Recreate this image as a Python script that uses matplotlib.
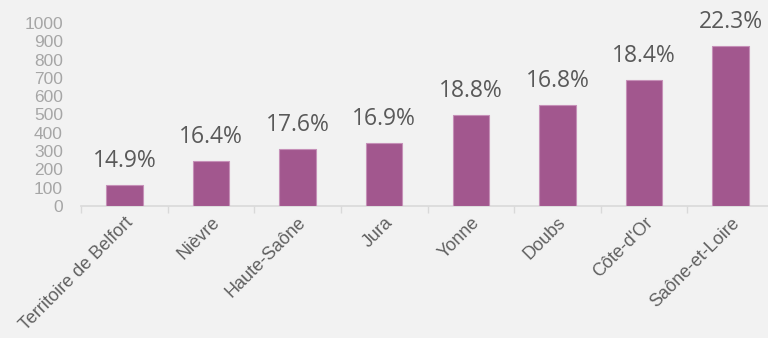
import matplotlib.pyplot as plt
import numpy as np

# Départements de Bourgogne-Franche-Comté
departements = ['Territoire de Belfort', 'Nièvre', 'Haute-Saône', 'Jura',
                'Yonne', 'Doubs', "Côte-d'Or", 'Saône-et-Loire']
valeurs = [115, 245, 310, 345, 495, 550, 690, 875]
taux = ['14.9%', '16.4%', '17.6%', '16.9%', '18.8%', '16.8%', '18.4%', '22.3%']
yticks = list(range(0, 1001, 100))

fond = '#f2f2f2'
couleur_barre = '#a2578e'

fig = plt.figure(figsize=(7.68, 3.38), dpi=100, facecolor=fond)
ax = fig.add_axes([81 / 768, (338 - 206) / 338, 693 / 768, 183 / 338])
ax.set_facecolor(fond)

x = np.arange(len(departements))
ax.bar(x, valeurs, width=0.42, color=couleur_barre,
       edgecolor='#c690b8', linewidth=0.8, zorder=3)

# étiquettes de pourcentage au-dessus des barres
for xi, v, t in zip(x, valeurs, taux):
    ax.annotate(t, xy=(xi, v), xytext=(0, 13), textcoords='offset points',
                ha='center', va='baseline', fontsize=16.5, color='#595959',
                family=['Open Sans', 'DejaVu Sans'])

ax.set_xlim(-0.5, len(departements) - 0.5)
ax.set_ylim(0, 1000)

ax.set_yticks(yticks)
ax.set_yticklabels([str(v) for v in yticks], fontsize=12.5, color='#a6a6a6',
                   family=['Liberation Sans', 'DejaVu Sans'])
ax.tick_params(axis='y', length=0, pad=13)

# graduations entre les catégories
ax.set_xticks(np.arange(-0.5, len(departements) + 0.5, 1))
ax.set_xticklabels([])
ax.tick_params(axis='x', which='major', length=5, color='#d9d9d9', width=1)
ax.set_xticks(x, minor=True)
ax.set_xticklabels(departements, minor=True, rotation=45, ha='right',
                   rotation_mode='anchor', fontsize=13, color='#606060',
                   family=['Liberation Sans', 'DejaVu Sans'])
ax.tick_params(axis='x', which='minor', length=0, pad=6)

for s in ['top', 'right', 'left']:
    ax.spines[s].set_visible(False)
ax.spines['bottom'].set_color('#d9d9d9')
ax.spines['bottom'].set_linewidth(1.2)

fig.savefig('out.png', dpi=100, facecolor=fond)
